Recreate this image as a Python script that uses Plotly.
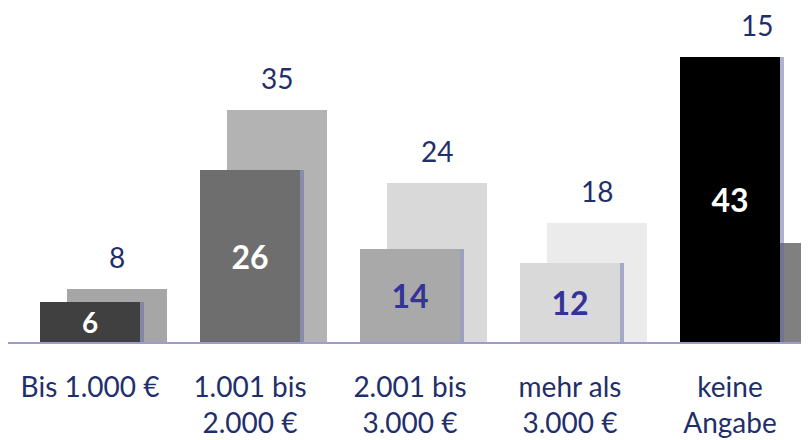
import plotly.graph_objects as go

categories = ["Bis 1.000 €", "1.001 bis<br>2.000 €", "2.001 bis<br>3.000 €", "mehr als<br>3.000 €", "keine<br>Angabe"]
front_values = [6, 26, 14, 12, 43]
back_values = [8, 35, 24, 18, 15]
front_colors = ["#404040", "#6e6e6e", "#a9a9a9", "#d9d9d9", "#000000"]
back_colors = ["#a6a6a6", "#b3b3b3", "#d9d9d9", "#ebebeb", "#808080"]
front_label_colors = ["#ffffff", "#ffffff", "#333399", "#333399", "#ffffff"]

xs = list(range(len(categories)))
BACK_OFF = 27 / 160
BAR_W = 100 / 160

W, H = 801, 432          # page body has an 8px margin
X0 = 82                  # pixel position of first category centre
BASE = 334               # pixel position of baseline
PX_PER_UNIT = 6.62

fig = go.Figure()
fig.add_trace(go.Bar(
    x=[x + BACK_OFF for x in xs], y=back_values, width=BAR_W,
    marker=dict(color=back_colors, line=dict(width=0)),
    hoverinfo="skip", showlegend=False,
))
# soft shadow behind the front bars
fig.add_trace(go.Bar(
    x=[x + 4 / 160 for x in xs], y=front_values, width=BAR_W,
    marker=dict(color="rgba(100,100,170,0.5)", line=dict(width=0)),
    hoverinfo="skip", showlegend=False,
))
fig.add_trace(go.Bar(
    x=xs, y=front_values, width=BAR_W,
    marker=dict(color=front_colors, line=dict(width=0)),
    text=[str(v) for v in front_values], textposition="inside",
    insidetextanchor="middle", textangle=0,
    textfont=dict(family="Lato", size=32, color=front_label_colors, weight="bold"),
    hoverinfo="skip", showlegend=False,
))

for x, f, v in zip(xs, front_values, back_values):
    fig.add_annotation(
        x=x + BACK_OFF, y=max(f, v), text=str(v), showarrow=False,
        yanchor="bottom", yshift=13,
        font=dict(family="Lato", size=28, color="#1f2f6b"),
    )

fig.update_layout(
    width=W, height=H,
    margin=dict(l=0, r=0, t=0, b=H - BASE, autoexpand=False),
    paper_bgcolor="white", plot_bgcolor="white",
    barmode="overlay", bargap=0,
    xaxis=dict(
        range=[-X0 / 160, (W - X0) / 160],
        tickvals=xs, ticktext=categories,
        showgrid=False, zeroline=False, automargin=False,
        showline=True, linecolor="#9d9dc9", linewidth=2,
        ticks="", ticklen=0, ticklabelstandoff=19,
        tickfont=dict(family="Lato", size=28, color="#1f2f6b"),
    ),
    yaxis=dict(range=[0, BASE / PX_PER_UNIT], visible=False, showgrid=False,
               zeroline=False, automargin=False),
)

fig.write_html("out.html")
